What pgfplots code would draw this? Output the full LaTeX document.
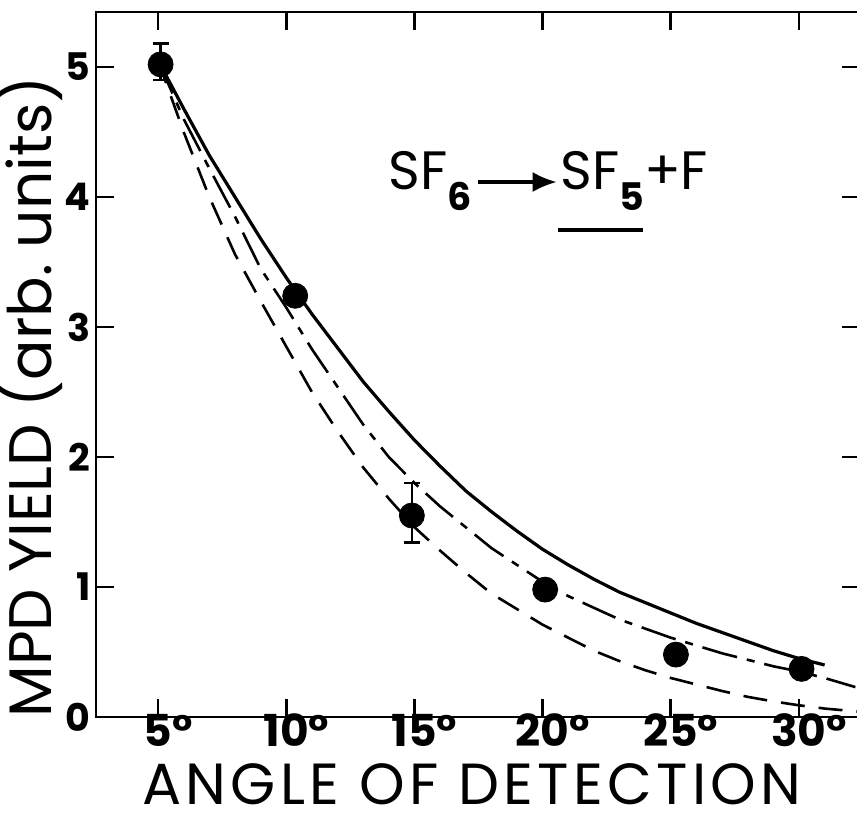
\documentclass[border=0pt]{standalone}
\usepackage{fontspec}
\setmainfont{Poppins}
\usepackage{pgfplots}
\pgfplotsset{compat=1.18}
\usetikzlibrary{arrows.meta}

\pgfplotstableread{
x y
5 5.05
6 4.68
7 4.32
8 4.00
9 3.68
10 3.38
11 3.10
12 2.84
13 2.58
14 2.35
15 2.13
16 1.93
17 1.74
18 1.58
19 1.43
20 1.29
21 1.17
22 1.06
23 0.96
24 0.88
25 0.80
26 0.72
27 0.65
28 0.58
29 0.51
30 0.45
31 0.40
}\solidtab

\pgfplotstableread{
x y
5 5.05
6 4.60
7 4.22
8 3.85
9 3.45
10 3.15
11 2.83
12 2.54
13 2.25
14 2.00
15 1.80
16 1.62
17 1.46
18 1.30
19 1.17
20 1.04
21 0.93
22 0.84
23 0.75
24 0.68
25 0.61
26 0.55
27 0.49
28 0.44
29 0.39
30 0.35
31 0.30
32.2 0.23
}\dashdottab

\pgfplotstableread{
x y
5 5.05
6 4.50
7 4.00
8 3.56
9 3.20
10 2.85
11 2.50
12 2.20
13 1.92
14 1.68
15 1.46
16 1.28
17 1.11
18 0.95
19 0.83
20 0.71
21 0.61
22 0.51
23 0.43
24 0.36
25 0.30
26 0.25
27 0.20
28 0.155
29 0.12
30 0.09
31 0.065
32.38 0.04
}\dashedtab

\pgfplotstableread{
x y ep em
5.1 5.02 0.16 0.12
10.35 3.24 0 0
14.9 1.55 0.25 0.21
20.1 0.98 0 0
25.2 0.48 0 0
30.1 0.37 0 0
}\pointtab

\begin{document}
\begin{tikzpicture}
\begin{axis}[
  at={(0,0)}, anchor=south west,
  scale only axis, width=382pt, height=352.5pt,
  xmin=2.58, xmax=32.38, ymin=0, ymax=5.423,
  xtick={5,10,15,20,25,30},
  xticklabels={5\rlap{°},10\rlap{°},15\rlap{°},20\rlap{°},25\rlap{°},30\rlap{°}},
  ytick={0,1,2,3,4,5},
  yticklabels={0,1,2,3,4,5},
  tick align=inside, major tick length=9pt,
  axis line style={line width=1.3pt},
  every tick/.style={black, line width=1.3pt},
  xticklabel style={font=\fontsize{22}{22}\selectfont\bfseries, anchor=base, yshift=-14.5pt},
  yticklabel style={font=\fontsize{19}{19}\selectfont\bfseries, anchor=east, inner xsep=2.5pt},
  xlabel={ANGLE OF DETECTION},
  ylabel={MPD YIELD (arb.\ units)},
  label style={font=\fontsize{30}{30}\selectfont},
  xlabel style={at={(axis description cs:0.492,-0.1248)}, anchor=base, inner sep=0pt, font=\fontsize{29}{29}\selectfont\addfontfeature{LetterSpace=7.5}},
  ylabel style={at={(axis description cs:-0.058,0.454)}, anchor=base, rotate=0},
  clip=false,
]
\addplot[black, line width=1.6pt] table[x=x,y=y] {\solidtab};
\addplot[black, line width=1.3pt, dash pattern=on 18pt off 5pt on 4pt off 5pt] table[x=x,y=y] {\dashdottab};
\addplot[black, line width=1.3pt, dash pattern=on 12pt off 7pt] table[x=x,y=y] {\dashedtab};
\addplot[black, only marks, mark=*, mark size=6.25pt,
  error bars/.cd, y dir=both, y explicit,
  error bar style={line width=1.3pt},
  error mark options={rotate=90, mark size=4pt, line width=1.3pt}]
  table[x=x,y=y,y error plus=ep,y error minus=em] {\pointtab};
\node[anchor=base west, inner sep=0pt, font=\fontsize{27}{27}\selectfont] at (axis cs:13.97,4.054) {SF\raisebox{-0.38em}{\fontsize{19}{19}\selectfont\bfseries 6}};
\draw[line width=1.6pt, -{Latex[length=12pt,width=10pt]}] (axis cs:17.48,4.115) -- (axis cs:20.55,4.115);
\node[anchor=base west, inner sep=0pt, font=\fontsize{27}{27}\selectfont] at (axis cs:20.68,4.054) {SF\raisebox{-0.38em}{\fontsize{19}{19}\selectfont\bfseries 5}+F};
\draw[line width=1.8pt] (axis cs:20.6,3.746) -- (axis cs:23.9,3.746);
\end{axis}
\pgfresetboundingbox
\useasboundingbox (-48pt,-54pt) rectangle (380.5pt,358.5pt);
\end{tikzpicture}
\end{document}
